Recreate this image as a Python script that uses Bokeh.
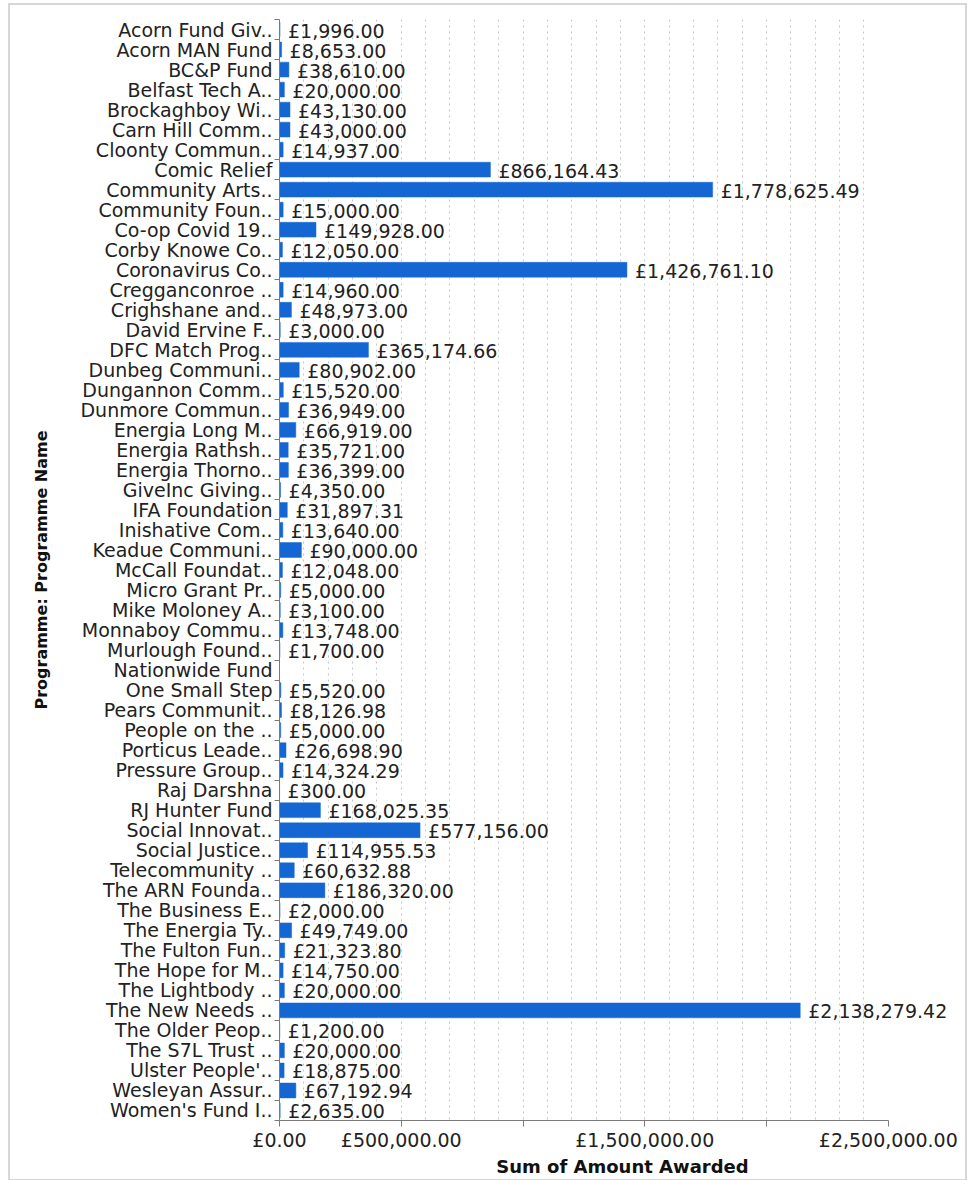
import math
from bokeh.plotting import figure
from bokeh.models import ColumnDataSource, FixedTicker, Range1d
from bokeh.core.properties import value
from bokeh.embed import file_html
from bokeh.resources import INLINE

programmes = [
    "Acorn Fund Giv..", "Acorn MAN Fund", "BC&P Fund", "Belfast Tech A..",
    "Brockaghboy Wi..", "Carn Hill Comm..", "Cloonty Commun..", "Comic Relief",
    "Community Arts..", "Community Foun..", "Co-op Covid 19..", "Corby Knowe Co..",
    "Coronavirus Co..", "Cregganconroe ..", "Crighshane and..", "David Ervine F..",
    "DFC Match Prog..", "Dunbeg Communi..", "Dungannon Comm..", "Dunmore Commun..",
    "Energia Long M..", "Energia Rathsh..", "Energia Thorno..", "GiveInc Giving..",
    "IFA Foundation", "Inishative Com..", "Keadue Communi..", "McCall Foundat..",
    "Micro Grant Pr..", "Mike Moloney A..", "Monnaboy Commu..", "Murlough Found..",
    "Nationwide Fund", "One Small Step", "Pears Communit..", "People on the ..",
    "Porticus Leade..", "Pressure Group..", "Raj Darshna", "RJ Hunter Fund",
    "Social Innovat..", "Social Justice..", "Telecommunity ..", "The ARN Founda..",
    "The Business E..", "The Energia Ty..", "The Fulton Fun..", "The Hope for M..",
    "The Lightbody ..", "The New Needs ..", "The Older Peop..", "The S7L Trust ..",
    "Ulster People'..", "Wesleyan Assur..", "Women's Fund I..",
]

amounts = [
    1996.00, 8653.00, 38610.00, 20000.00,
    43130.00, 43000.00, 14937.00, 866164.43,
    1778625.49, 15000.00, 149928.00, 12050.00,
    1426761.10, 14960.00, 48973.00, 3000.00,
    365174.66, 80902.00, 15520.00, 36949.00,
    66919.00, 35721.00, 36399.00, 4350.00,
    31897.31, 13640.00, 90000.00, 12048.00,
    5000.00, 3100.00, 13748.00, 1700.00,
    None, 5520.00, 8126.98, 5000.00,
    26698.90, 14324.29, 300.00, 168025.35,
    577156.00, 114955.53, 60632.88, 186320.00,
    2000.00, 49749.00, 21323.80, 14750.00,
    20000.00, 2138279.42, 1200.00, 20000.00,
    18875.00, 67192.94, 2635.00,
]

x_ticks = [0, 500000, 1000000, 1500000, 2000000, 2500000]
x_tick_labels = ["£0.00", "£500,000.00", "", "£1,500,000.00", "", "£2,500,000.00"]

FONT = "DejaVu Sans"
TEXT = "#222222"
BAR = "#1467d3"

n = len(programmes)
ys = list(range(n))
rights = [float("nan") if a is None else a for a in amounts]
labels = ["" if a is None else "£{:,.2f}".format(a) for a in amounts]
label_x = [0.0 if a is None else a for a in amounts]

source = ColumnDataSource(data=dict(y=ys, right=rights, lx=label_x, label=labels))

p = figure(
    width=955, height=1174,
    x_range=Range1d(0, 2817000), y_range=Range1d(n - 0.5, -0.5),
    output_backend="svg", toolbar_location=None,
    min_border_left=269, min_border_right=0, min_border_top=14, min_border_bottom=10,
)
p.outline_line_color = None
p.background_fill_color = "white"
p.border_fill_color = "white"
p.styles = {"margin": "5px 0px 0px 10px", "outline": "2px solid #d6d6d6"}

p.hbar(y="y", right="right", left=0, height=0.74, source=source,
       fill_color=BAR, line_color=BAR, line_width=0.5)
p.text(x="lx", y="y", text="label", source=source, x_offset=8, y_offset=1,
       text_font=value(FONT), text_font_size="19px", text_color=TEXT,
       text_align="left", text_baseline="middle")

# y axis
yax = p.yaxis[0]
yax.ticker = FixedTicker(ticks=ys, minor_ticks=[i - 0.5 for i in range(n + 1)])
yax.major_label_overrides = {i: name for i, name in enumerate(programmes)}
yax.major_tick_out = 0
yax.major_tick_in = 0
yax.minor_tick_out = 5
yax.minor_tick_in = 0
yax.minor_tick_line_color = "#7a7a7a"
yax.axis_line_color = "#7a7a7a"
yax.major_label_text_font = FONT
yax.major_label_text_font_size = "19px"
yax.major_label_text_color = TEXT
yax.major_label_standoff = 2
yax.axis_label = "Programme: Programme Name"
yax.axis_label_text_font = FONT
yax.axis_label_text_font_size = "16px"
yax.axis_label_text_font_style = "bold"
yax.axis_label_text_color = "#111111"
yax.axis_label_standoff = 26

# x axis
xax = p.xaxis[0]
xax.ticker = FixedTicker(ticks=x_ticks, minor_ticks=[])
xax.major_label_overrides = dict(zip(x_ticks, x_tick_labels))
xax.bounds = (0, 2500000)
xax.major_tick_out = 6
xax.major_tick_in = 0
xax.major_tick_line_color = "#7a7a7a"
xax.axis_line_color = "#7a7a7a"
xax.major_label_text_font = FONT
xax.major_label_text_font_size = "19px"
xax.major_label_text_color = TEXT
xax.major_label_standoff = 2
xax.axis_label = "Sum of Amount Awarded"
xax.axis_label_text_font = FONT
xax.axis_label_text_font_size = "18px"
xax.axis_label_text_font_style = "bold"
xax.axis_label_text_color = "#111111"
xax.axis_label_standoff = 2

# grids
p.ygrid.grid_line_color = None
p.xgrid.ticker = FixedTicker(ticks=list(range(100000, 2500000, 100000)))
p.xgrid.grid_line_color = "#c4c4c4"
p.xgrid.grid_line_dash = "2 4"
p.xgrid.grid_line_width = 1

open("out.html", "w").write(file_html(p, INLINE))
